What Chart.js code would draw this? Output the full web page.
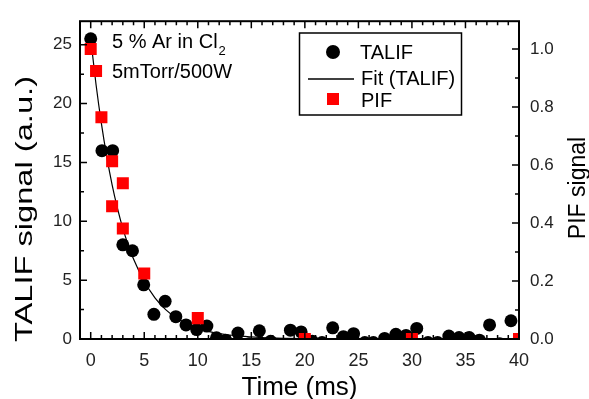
<!DOCTYPE html>
<html>
<head>
<meta charset="utf-8">
<script src="https://cdn.jsdelivr.net/npm/chart.js@4.4.1/dist/chart.umd.min.js"></script>
<style>
  html, body { margin: 0; padding: 0; background: #fff; }
  canvas { display: block; }
</style>
</head>
<body>
<canvas id="decay" width="589" height="399"></canvas>
<script>
/* TALIF / PIF decay after plasma off */

const FONT = "'Liberation Sans', Arial, sans-serif";

// TALIF (black circles, left axis)
const talifTime   = [0, 1.05, 2.05, 3.0, 3.9, 4.95, 5.9, 6.95, 7.95, 8.9, 9.9, 10.85, 11.75, 12.6, 13.75, 14.8, 15.75, 16.8, 17.7,
                     18.65, 19.65, 20.7, 21.6, 22.6, 23.6, 24.55, 25.6, 26.4, 27.45, 28.5, 29.45, 30.45, 31.5, 32.4, 33.45,
                     34.4, 35.35, 36.3, 37.25, 38.2, 39.25];
const talifSignal = [25.5, 16.0, 16.0, 8.0, 7.5, 4.6, 2.1, 3.2, 1.9, 1.2, 0.8, 1.1, 0.1, -0.1, 0.5, -0.4, 0.7, -0.2, -0.5,
                     0.75, 0.6, -0.2, -0.3, 0.95, 0.2, 0.45, -0.3, -0.3, 0.05, 0.4, 0.3, 0.9, -0.3, -0.3, 0.25,
                     0.12, 0.12, -0.1, 1.2, -0.4, 1.55];

// exponential fit through TALIF (thin black line)
const fitTime   = [0, 0.5, 1, 1.5, 2, 2.5, 3, 3.5, 4, 5, 6, 7, 8, 9, 10, 11, 12, 14, 16, 18, 20, 25, 30, 35, 40];
const fitSignal = [25.5, 21.6, 18.3, 15.5, 13.1, 11.1, 9.4, 8.0, 6.8, 4.9, 3.5, 2.5, 1.8, 1.3, 0.9, 0.65, 0.47, 0.24, 0.12,
                   0.06, 0.03, 0.0, 0.0, 0.0, 0.0];

// PIF (red squares, right axis)
const pifTime   = [0, 0.5, 1, 2, 2, 3, 3, 5, 10, 20, 30, 40];
const pifSignal = [1.0, 0.924, 0.765, 0.613, 0.458, 0.537, 0.381, 0.226, 0.072, 0, 0, 0];

// axes
const timeTicks  = [0, 5, 10, 15, 20, 25, 30, 35, 40];
const talifTicks = [0, 5, 10, 15, 20, 25];
const pifTicks   = [0, 0.2, 0.4, 0.6, 0.8, 1.0];

const toXY = (xs, ys) => xs.map((x, i) => ({ x, y: ys[i] }));

/* ── inward major/minor ticks + frame ─────────────────────────── */
const frame = {
  id: 'frame',
  afterDraw(chart) {
    const { ctx, chartArea: a, scales } = chart;
    const mark = (scale, step, majors, draw) => {
      const i0 = Math.ceil(scale.min / step - 1e-9), i1 = Math.floor(scale.max / step + 1e-9);
      for (let i = i0; i <= i1; i++) {
        const v = i * step;
        const major = majors.some(m => Math.abs(m - v) < 1e-6);
        draw(scale.getPixelForValue(v), major ? 7 : 4);
      }
    };
    ctx.save();
    ctx.strokeStyle = '#000';
    ctx.lineWidth = 1.5;
    ctx.beginPath();
    mark(scales.x, 1, timeTicks, (p, len) => {
      ctx.moveTo(p, a.bottom); ctx.lineTo(p, a.bottom - len);
      ctx.moveTo(p, a.top);    ctx.lineTo(p, a.top + len);
    });
    mark(scales.y, 2.5, talifTicks, (p, len) => { ctx.moveTo(a.left, p); ctx.lineTo(a.left + len, p); });
    mark(scales.y2, 0.1, pifTicks, (p, len) => { ctx.moveTo(a.right, p); ctx.lineTo(a.right - len, p); });
    ctx.stroke();
    ctx.lineWidth = 2;
    ctx.strokeRect(a.left, a.top, a.right - a.left, a.bottom - a.top);
    ctx.restore();
  }
};

/* ── axis titles, note, legend box ────────────────────────────── */
const labels = {
  id: 'labels',
  afterDraw(chart) {
    const { ctx, chartArea: a } = chart;
    const ds = chart.data.datasets;
    ctx.save();
    ctx.fillStyle = '#000';
    ctx.textBaseline = 'alphabetic';

    // x title
    ctx.textAlign = 'center';
    ctx.font = `26px ${FONT}`;
    ctx.fillText('Time (ms)', (a.left + a.right) / 2, 395);

    // left title (rotated, a bit stretched like the original)
    ctx.save();
    ctx.translate(32, 209);
    ctx.rotate(-Math.PI / 2);
    ctx.scale(1.36, 1);
    ctx.font = `24px ${FONT}`;
    ctx.fillText('TALIF signal (a.u.)', 0, 0);
    ctx.restore();

    // right title
    ctx.save();
    ctx.translate(585, 188);
    ctx.rotate(-Math.PI / 2);
    ctx.font = `23px ${FONT}`;
    ctx.fillText('PIF signal', 0, 0);
    ctx.restore();

    // note
    ctx.textAlign = 'left';
    ctx.font = `20px ${FONT}`;
    const line1 = '5 % Ar in Cl';
    ctx.fillText(line1, 112, 48);
    const w1 = ctx.measureText(line1).width;
    ctx.fillText('5mTorr/500W', 112, 78);
    ctx.font = `13px ${FONT}`;
    ctx.fillText('2', 112 + w1 + 1, 55);

    // legend
    ctx.lineWidth = 1.5;
    ctx.strokeStyle = '#000';
    ctx.strokeRect(299.5, 33, 162, 82);
    ctx.fillStyle = ds[0].backgroundColor;
    ctx.beginPath(); ctx.arc(333, 52, 7, 0, Math.PI * 2); ctx.fill();
    ctx.strokeStyle = ds[1].borderColor;
    ctx.beginPath(); ctx.moveTo(308, 79); ctx.lineTo(354, 79); ctx.stroke();
    ctx.fillStyle = ds[2].backgroundColor;
    ctx.fillRect(327, 93, 12, 12);
    ctx.fillStyle = '#000';
    ctx.font = `20px ${FONT}`;
    ctx.fillText(ds[0].label, 360, 59);
    ctx.fillText(ds[1].label, 361, 85);
    ctx.fillText(ds[2].label, 361, 107);
    ctx.restore();
  }
};

const tickFont = size => ({ family: FONT, size });

new Chart(document.getElementById('decay'), {
  type: 'scatter',
  data: {
    datasets: [
      {
        label: 'TALIF',
        data: toXY(talifTime, talifSignal),
        yAxisID: 'y',
        pointStyle: 'circle',
        pointRadius: 6.5,
        backgroundColor: '#000',
        borderWidth: 0,
        clip: 0,
        order: 2,
      },
      {
        label: 'Fit (TALIF)',
        data: toXY(fitTime, fitSignal),
        yAxisID: 'y',
        showLine: true,
        pointRadius: 0,
        borderColor: '#000',
        borderWidth: 1.2,
        cubicInterpolationMode: 'monotone',
        clip: 0,
        order: 1,
      },
      {
        label: 'PIF',
        data: toXY(pifTime, pifSignal),
        yAxisID: 'y2',
        pointStyle: 'rect',
        pointRadius: 8.5,
        backgroundColor: '#ff0000',
        borderWidth: 0,
        clip: 0,
        order: 0,
      },
    ],
  },
  options: {
    responsive: false,
    animation: false,
    layout: { padding: { top: 15, left: 0, right: 0, bottom: 0 } },
    plugins: { legend: { display: false }, tooltip: { enabled: false } },
    scales: {
      x: {
        type: 'linear', position: 'bottom', min: -1, max: 40,
        afterBuildTicks: s => { s.ticks = timeTicks.map(v => ({ value: v })); },
        afterFit: s => { s.height = 60; },
        grid: { display: false, drawTicks: false },
        border: { display: false },
        ticks: { padding: 11, color: '#222', font: tickFont(18), maxRotation: 0, autoSkip: false, callback: v => String(v) },
      },
      y: {
        type: 'linear', position: 'left', min: 0, max: 27,
        afterBuildTicks: s => { s.ticks = talifTicks.map(v => ({ value: v })); },
        afterFit: s => { s.width = 80; },
        grid: { display: false, drawTicks: false },
        border: { display: false },
        ticks: { padding: 8, color: '#222', font: tickFont(17), autoSkip: false, callback: v => String(v) },
      },
      y2: {
        type: 'linear', position: 'right', min: 0, max: 1.096,
        afterBuildTicks: s => { s.ticks = pifTicks.map(v => ({ value: v })); },
        afterFit: s => { s.width = 70; },
        grid: { display: false, drawTicks: false },
        border: { display: false },
        ticks: { padding: 11, color: '#222', font: tickFont(17), autoSkip: false, callback: v => v.toFixed(1) },
      },
    },
  },
  plugins: [frame, labels],
});
</script>
</body>
</html>
